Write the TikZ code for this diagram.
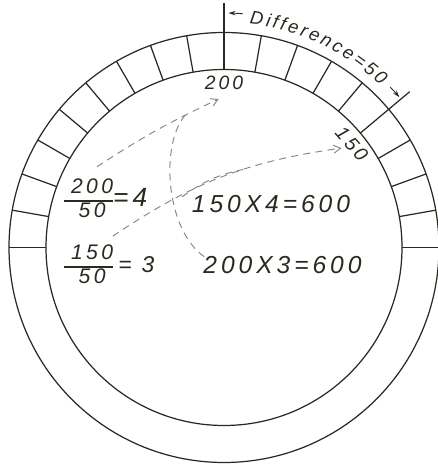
\documentclass[tikz,border=0pt]{standalone}
\usepackage{fontspec}
\newfontfamily\handfont{Liberation Sans}[LetterSpace=16]
\usetikzlibrary{arrows.meta, decorations.text}
\definecolor{inkdark}{RGB}{40,42,32}
\definecolor{dashgray}{RGB}{135,135,130}
\setlength{\arrayrulewidth}{0.6pt}
\newcommand{\ratio}[2]{\begin{tabular}{@{\hspace{4pt}}c@{\hspace{0pt}}}#1\\\hline #2\end{tabular}}

\begin{document}
\begin{tikzpicture}[
    ring/.style={inkdark, line width=0.7pt},
    dashlink/.style={dashgray, dash pattern=on 4pt off 3pt, line width=0.55pt},
    pointer/.style={dashlink, -{Straight Barb[length=4pt,width=4.5pt]}},
    diffarr/.style={inkdark, line width=0.5pt, -{Stealth[length=4pt,width=2.5pt]}},
    lbl/.style={font=\handfont\itshape\fontsize{11}{13}\selectfont, text=inkdark, inner sep=1pt},
    eqn/.style={font=\handfont\itshape\fontsize{14}{16}\selectfont, text=inkdark, inner sep=1pt},
    quot/.style={font=\handfont\itshape\fontsize{12}{13}\selectfont, text=inkdark, inner sep=1pt, anchor=west}
  ]
  \useasboundingbox (-4.48,-4.33) rectangle (4.28,4.95);

  \draw[ring] (0,0) circle (4.3);
  \draw[ring] (0,0) circle (3.56);
  \foreach \a in {0,10,...,180}
    \draw[ring] (\a:3.56) -- (\a:4.3);
  \draw[ring] (90:4.3) -- (90:4.88);
  \draw[ring] (40:4.3) -- (40:4.85);

  \draw[diffarr] (85.4:4.69) arc[start angle=85.4, end angle=88.9, radius=4.69];
  \draw[diffarr] (44:4.62) arc[start angle=44, end angle=40.6, radius=4.62];
  \path[decorate, decoration={text along path, text align=fit to path,
      text={|\handfont\itshape\fontsize{10.5}{12}\selectfont\color{inkdark}|Difference=50}}]
    (83.5:4.5) arc[start angle=83.5, end angle=46, radius=4.5];

  \node[lbl] (lab200) at (90:3.29) {200};
  \node[lbl, rotate=-49] (lab150) at (39:3.29) {150};
  \node[quot] (q200) at (-3.24,0.93) {\ratio{200}{50}{\fontsize{15}{16}\selectfont=4}};
  \node[quot] (q150) at (-3.24,-0.39) {\ratio{150}{50}{\fontsize{13}{14}\selectfont\hspace{3pt}= 3}};
  \node[eqn] (eq150) at (0.94,0.87) {150X4=600};
  \node[eqn] (eq200) at (1.17,-0.35) {200X3=600};

  \draw[pointer] ([shift={(-5pt,5pt)}]q200.north) to[bend left=4] coordinate[pos=0.75] (fork200) ([shift={(-3pt,-4pt)}]lab200.south);
  \draw[dashlink] (fork200) .. controls +(-0.5,-0.56) and +(-0.8,0.54) .. ([shift={(2pt,4.5pt)}]eq200.west);
  \draw[pointer] ([shift={(2pt,3pt)}]q150.north) to[bend left=13] coordinate[pos=0.6] (join150) ([shift={(-2pt,1pt)}]lab150.south);
  \draw[dashlink] ([shift={(-4.5pt,4pt)}]eq150.west) to[bend left=12] (join150);
\end{tikzpicture}
\end{document}
